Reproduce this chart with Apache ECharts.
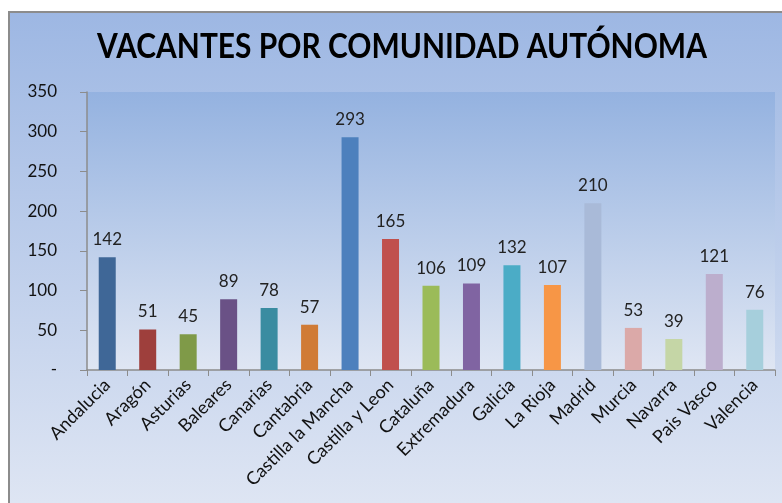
<!DOCTYPE html>
<html><head><meta charset="utf-8">
<script src="https://cdn.jsdelivr.net/npm/echarts@6/dist/echarts.min.js"></script>
<style>html,body{margin:0;padding:0;background:#fff}#c{width:782px;height:503px}</style>
</head><body><div id="c"></div>
<script>
const categories = ["Andalucia","Aragón","Asturias","Baleares","Canarias","Cantabria","Castilla la Mancha","Castilla y Leon","Cataluña","Extremadura","Galicia","La Rioja","Madrid","Murcia","Navarra","Pais Vasco","Valencia"];
const values = [142,51,45,89,78,57,293,165,106,109,132,107,210,53,39,121,76];
const colors = ["#3F6797","#9E3F3C","#7F9A48","#6A5186","#3A8CA1","#D07B36","#4D80BD","#C0504D","#9BBB59","#8064A2","#4BACC6","#F79646","#A9BAD8","#DBA9A8","#C5D6A6","#BCAECD","#A6CFDC"];
const title = "VACANTES POR COMUNIDAD AUTÓNOMA";

const chart = echarts.init(document.getElementById('c'));
const font = "Lato, 'Open Sans', sans-serif";
chart.setOption({
  backgroundColor: '#fff',
  animation: false,
  graphic: [{
    type: 'rect', z: -10, silent: true,
    shape: {x: 9, y: 12, width: 800, height: 520},
    style: {
      fill: new echarts.graphic.LinearGradient(0,0,0,1,[{offset:0,color:'#9DB7E3'},{offset:1,color:'#E2E8F4'}]),
      stroke: '#8C8C8C', lineWidth: 2
    }
  }, {
    type: 'text', x: 402, y: 30, scaleX: 0.88, z: 10,
    style: {
      text: title, align: 'center', verticalAlign: 'top',
      font: "bold 34px Lato, sans-serif", fill: '#000'
    }
  }],
  grid: {
    left: 87, right: 7, top: 92, bottom: 133, show: true, borderWidth: 0,
    backgroundColor: new echarts.graphic.LinearGradient(0,0,0,1,[{offset:0,color:'#94B2E0'},{offset:1,color:'#DFE6F3'}])
  },
  xAxis: {
    type: 'category', data: categories,
    axisLine: {lineStyle: {color: '#8C8C8C', width: 1.5}},
    axisTick: {show: true, length: 6, lineStyle: {color: '#8C8C8C'}},
    axisLabel: {rotate: 45, interval: 0, margin: 12, fontFamily: font, fontSize: 18, color: '#111'}
  },
  yAxis: {
    type: 'value', min: 0, max: 350, interval: 50,
    axisLine: {show: true, lineStyle: {color: '#8C8C8C', width: 1.5}},
    axisTick: {show: true, length: 7, lineStyle: {color: '#8C8C8C'}},
    splitLine: {show: false},
    axisLabel: {margin: 30, fontFamily: font, fontSize: 17, color: '#111',
      formatter: v => v === 0 ? '-' : String(v)}
  },
  series: [{
    type: 'bar', barWidth: 17,
    data: values.map((v,i) => ({value: v, itemStyle: {color: colors[i]}})),
    label: {show: true, position: 'top', distance: 9, fontFamily: font, fontSize: 17, color: '#222'}
  }]
});
</script></body></html>
